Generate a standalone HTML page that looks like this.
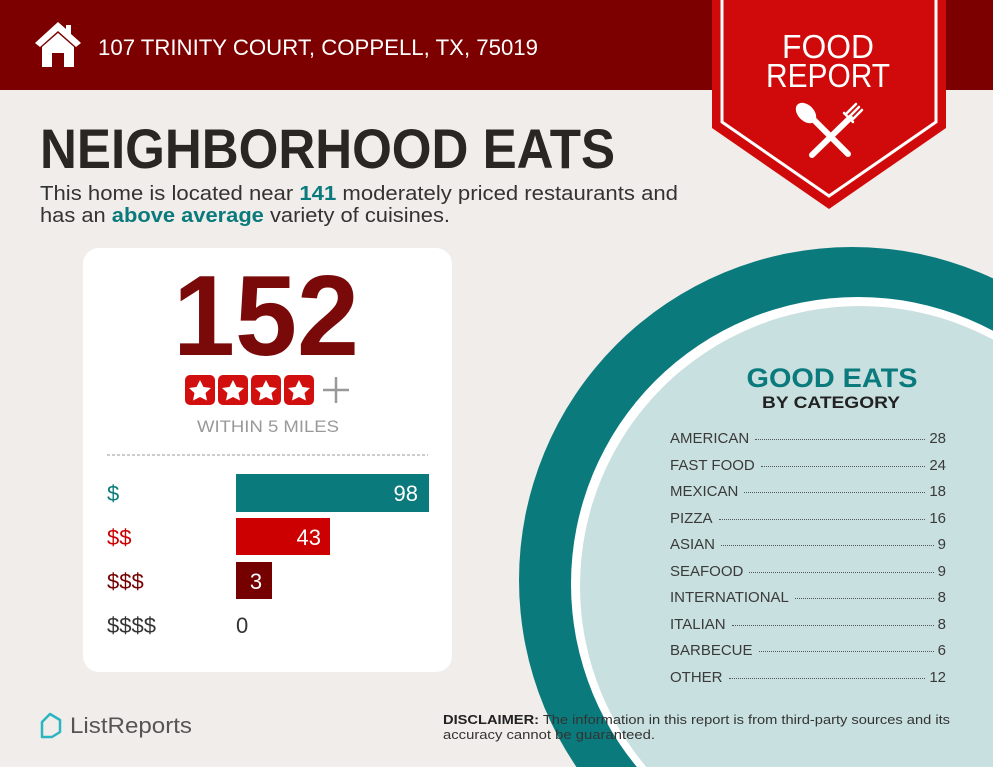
<!DOCTYPE html>
<html><head><meta charset="utf-8"><style>
*{margin:0;padding:0;box-sizing:border-box}
html,body{width:993px;height:767px;overflow:hidden}
body{background:#f1edea;font-family:"Liberation Sans",sans-serif;position:relative}
svg{position:absolute;left:0;top:0;display:block}
.list{position:absolute;left:670px;top:430px;width:276px;font-size:15px;color:#3a3a3a}
.row{display:flex;align-items:baseline;height:26.5px}
.row .f{flex:1;border-bottom:1.5px dotted #555;margin:0 4px 0 6px;transform:translateY(-3px)}
</style></head><body>
<svg width="993" height="767" viewBox="0 0 993 767" font-family="Liberation Sans, sans-serif">
<rect x="0" y="0" width="993" height="90" fill="#7d0000"/>
<path d="M58 22 L35 43 L40 47 L58 31 L76 47 L81 43 L71 34 L71 25 L66 25 L66 29 Z" fill="#fff"/>
<path d="M42 47 L58 33 L74 47 L74 67 L64 67 L64 53 L52 53 L52 67 L42 67 Z" fill="#fff"/>
<text x="98" y="55" font-size="22" fill="#fff" textLength="440" lengthAdjust="spacingAndGlyphs">107 TRINITY COURT, COPPELL, TX, 75019</text>
<circle cx="852" cy="580" r="333" fill="#0a7a7c"/>
<circle cx="858" cy="584" r="287" fill="#fff"/>
<circle cx="860" cy="586" r="280" fill="#c8e0df"/>
<path d="M712 0 L946 0 L946 128 L829 209 L712 128 Z" fill="#d00a0a"/>
<path d="M722 0 L722 122 L829 196 L936 122 L936 0" fill="none" stroke="#fff" stroke-width="3"/>
<text x="828" y="58" font-size="33" fill="#fff" text-anchor="middle" textLength="92" lengthAdjust="spacingAndGlyphs">FOOD</text>
<text x="828" y="87" font-size="33" fill="#fff" text-anchor="middle" textLength="124" lengthAdjust="spacingAndGlyphs">REPORT</text>
<g stroke="#fff" stroke-linecap="round">
<line x1="812" y1="118" x2="848" y2="154" stroke-width="6"/>
<ellipse cx="806" cy="113" rx="8" ry="12" transform="rotate(-45 806 113)" fill="#fff" stroke="none"/>
<line x1="850" y1="118" x2="812" y2="155" stroke-width="6"/>
<path d="M846 114 L856 104 M849 117 L859 107 M852 120 L862 110 M844 113 L853 122" stroke-width="2.5"/>
</g>
<text x="40" y="168" font-size="56" font-weight="bold" fill="#2a2624" textLength="575" lengthAdjust="spacingAndGlyphs">NEIGHBORHOOD EATS</text>
<text x="40" y="200" font-size="20" fill="#333" textLength="638" lengthAdjust="spacingAndGlyphs">This home is located near <tspan font-weight="bold" fill="#0a7a7c">141</tspan> moderately priced restaurants and</text>
<text x="40" y="222" font-size="20" fill="#333" textLength="410" lengthAdjust="spacingAndGlyphs">has an <tspan font-weight="bold" fill="#0a7a7c">above average</tspan> variety of cuisines.</text>
<rect x="83" y="248" width="369" height="424" rx="16" fill="#fff"/>
<text x="173" y="355" font-size="114" font-weight="bold" fill="#7a0a0a" textLength="186" lengthAdjust="spacingAndGlyphs">152</text>
<g fill="#d10f0f">
<rect x="185" y="375" width="30" height="30" rx="5"/><rect x="218" y="375" width="30" height="30" rx="5"/><rect x="251" y="375" width="30" height="30" rx="5"/><rect x="284" y="375" width="30" height="30" rx="5"/>
</g>
<g fill="#fff">
<path id="st" d="M200 380 L203.5 387 L211 388 L205.5 393 L207 400.5 L200 397 L193 400.5 L194.5 393 L189 388 L196.5 387 Z"/>
<use href="#st" x="33"/><use href="#st" x="66"/><use href="#st" x="99"/>
</g>
<path d="M336 377 V403 M323 390 H349" stroke="#999" stroke-width="2.5"/>
<text x="268" y="432" font-size="17" fill="#999" text-anchor="middle" textLength="142" lengthAdjust="spacingAndGlyphs">WITHIN 5 MILES</text>
<line x1="107" y1="455" x2="428" y2="455" stroke="#999" stroke-width="1" stroke-dasharray="3,2"/>
<rect x="236" y="474" width="193" height="38" fill="#0a7a7c"/>
<rect x="236" y="518" width="94" height="37" fill="#cc0000"/>
<rect x="236" y="562" width="36" height="37" fill="#750000"/>
<g font-size="22">
<text x="107" y="501" fill="#0a7a7c">$</text>
<text x="107" y="545" fill="#cc0000">$$</text>
<text x="107" y="589" fill="#750000">$$$</text>
<text x="107" y="633" fill="#333">$$$$</text>
<text x="418" y="501" fill="#fff" text-anchor="end">98</text>
<text x="321" y="545" fill="#fff" text-anchor="end">43</text>
<text x="256" y="589" fill="#fff" text-anchor="middle">3</text>
<text x="236" y="633" fill="#333">0</text>
</g>
<text x="832" y="387" font-size="27" font-weight="bold" fill="#0a7a7c" text-anchor="middle" textLength="171" lengthAdjust="spacingAndGlyphs">GOOD EATS</text>
<text x="831" y="408" font-size="17" font-weight="bold" fill="#222" text-anchor="middle" textLength="138" lengthAdjust="spacingAndGlyphs">BY CATEGORY</text>
<path d="M42 722 L50 714 L60 720 L60 732 L52 737 L42 737 Z" fill="none" stroke="#2bb5c0" stroke-width="2.5" stroke-linejoin="round"/>
<text x="70" y="733" font-size="22" fill="#555" textLength="122" lengthAdjust="spacingAndGlyphs">ListReports</text>
<text x="443" y="724" font-size="13" fill="#333" textLength="507" lengthAdjust="spacingAndGlyphs"><tspan font-weight="bold" fill="#222">DISCLAIMER:</tspan> The information in this report is from third-party sources and its</text>
<text x="443" y="739" font-size="13" fill="#333" textLength="212" lengthAdjust="spacingAndGlyphs">accuracy cannot be guaranteed.</text>
</svg>
<div class="list">
<div class="row"><span>AMERICAN</span><span class="f"></span><span>28</span></div>
<div class="row"><span>FAST FOOD</span><span class="f"></span><span>24</span></div>
<div class="row"><span>MEXICAN</span><span class="f"></span><span>18</span></div>
<div class="row"><span>PIZZA</span><span class="f"></span><span>16</span></div>
<div class="row"><span>ASIAN</span><span class="f"></span><span>9</span></div>
<div class="row"><span>SEAFOOD</span><span class="f"></span><span>9</span></div>
<div class="row"><span>INTERNATIONAL</span><span class="f"></span><span>8</span></div>
<div class="row"><span>ITALIAN</span><span class="f"></span><span>8</span></div>
<div class="row"><span>BARBECUE</span><span class="f"></span><span>6</span></div>
<div class="row"><span>OTHER</span><span class="f"></span><span>12</span></div>
</div>
</body></html>
